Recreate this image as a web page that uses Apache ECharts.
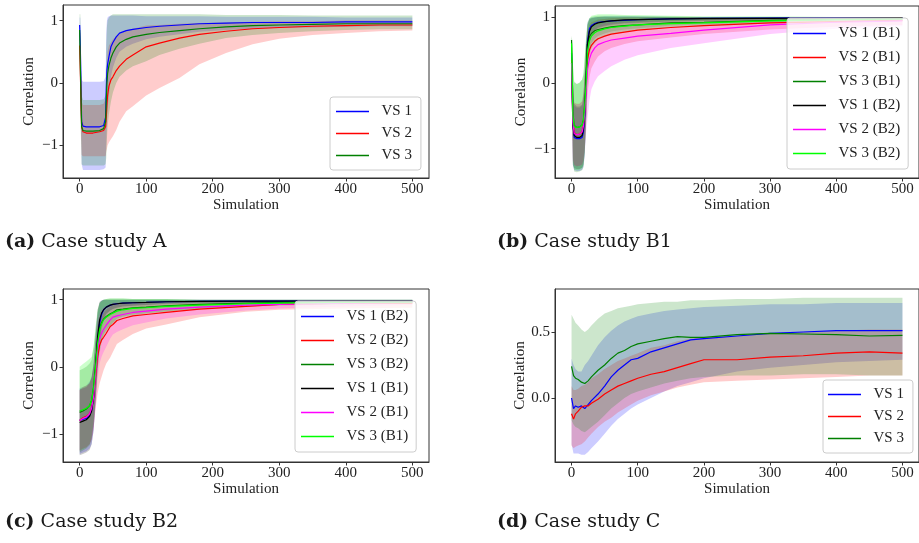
<!DOCTYPE html>
<html><head><meta charset="utf-8">
<script src="https://cdn.jsdelivr.net/npm/echarts@6/dist/echarts.min.js"></script>
<style>html,body{margin:0;padding:0;background:#fff}#c{width:919px;height:543px}</style>
</head><body><div id="c"></div>
<script>
// ---------- Panel A (Case study A) ----------
const xA = [0,1,3,5,10,20,30,36,39,40,41,42,44,47,50,55,60,70,80,100,120,150,180,220,260,300,350,400,450,500];
const a1_mean = [0.93,0.58,-0.62,-0.69,-0.70,-0.70,-0.70,-0.68,-0.55,-0.10,0.20,0.30,0.42,0.58,0.65,0.74,0.80,0.84,0.86,0.89,0.91,0.93,0.95,0.96,0.97,0.97,0.97,0.98,0.98,0.98];
const a1_lo = [0.80,0.10,-1.30,-1.39,-1.39,-1.39,-1.39,-1.38,-1.35,-1.00,-0.60,-0.40,-0.20,0.10,0.25,0.40,0.50,0.58,0.63,0.70,0.74,0.78,0.82,0.85,0.87,0.88,0.89,0.90,0.91,0.91];
const a1_hi = [1.05,1.05,0.05,0.02,0.02,0.02,0.02,0.03,0.10,0.80,1.00,1.05,1.07,1.08,1.08,1.08,1.08,1.08,1.08,1.07,1.07,1.07,1.07,1.06,1.06,1.06,1.06,1.05,1.05,1.05];
const a2_mean = [0.60,0.20,-0.70,-0.78,-0.80,-0.80,-0.78,-0.76,-0.70,-0.55,-0.35,-0.20,-0.05,0.05,0.10,0.20,0.27,0.38,0.45,0.58,0.64,0.72,0.78,0.83,0.87,0.89,0.91,0.92,0.93,0.93];
const a2_lo = [0.40,-0.40,-1.15,-1.17,-1.17,-1.17,-1.17,-1.17,-1.17,-1.10,-1.05,-1.00,-0.95,-0.90,-0.85,-0.75,-0.62,-0.45,-0.37,-0.20,-0.08,0.08,0.30,0.48,0.62,0.71,0.77,0.80,0.83,0.84];
const a2_hi = [0.80,0.80,-0.30,-0.35,-0.35,-0.35,-0.35,-0.33,-0.25,-0.10,0.30,0.50,0.60,0.65,0.70,0.75,0.78,0.84,0.87,0.92,0.93,0.95,0.96,0.97,0.98,0.99,0.99,1.00,1.00,1.00];
const a3_mean = [0.85,0.30,-0.70,-0.76,-0.77,-0.77,-0.76,-0.73,-0.62,-0.30,0.00,0.15,0.28,0.40,0.48,0.58,0.64,0.70,0.74,0.78,0.81,0.84,0.87,0.90,0.92,0.93,0.94,0.95,0.95,0.95];
const a3_lo = [0.60,-0.50,-1.30,-1.32,-1.32,-1.32,-1.32,-1.32,-1.30,-1.20,-0.90,-0.70,-0.50,-0.30,-0.15,0.00,0.10,0.20,0.27,0.35,0.45,0.55,0.63,0.72,0.77,0.80,0.83,0.85,0.86,0.86];
const a3_hi = [1.10,1.10,-0.20,-0.27,-0.27,-0.27,-0.27,-0.26,-0.20,0.60,0.90,1.00,1.05,1.08,1.10,1.10,1.10,1.10,1.10,1.10,1.10,1.10,1.10,1.09,1.09,1.09,1.08,1.08,1.08,1.08];

// ---------- Panel B (Case study B1) ----------
const xB = [0,1,2,4,8,12,16,18,20,22,24,27,30,35,40,50,60,80,100,150,200,300,400,500];
const b1_mean = [0.45,0.00,-0.60,-0.83,-0.85,-0.85,-0.83,-0.75,-0.50,0.00,0.62,0.82,0.87,0.90,0.92,0.93,0.94,0.95,0.96,0.97,0.98,0.985,0.99,0.99];
const b1_lo = [0.20,-0.60,-1.25,-1.33,-1.34,-1.34,-1.32,-1.28,-1.10,-0.60,0.30,0.62,0.74,0.80,0.84,0.87,0.89,0.91,0.92,0.94,0.95,0.96,0.97,0.97];
const b1_hi = [0.70,0.40,0.10,-0.35,-0.38,-0.38,-0.35,-0.25,0.10,0.55,0.90,0.98,0.99,1.00,1.00,1.01,1.01,1.01,1.01,1.00,1.00,1.00,1.00,1.00];
const b2_mean = [0.35,-0.10,-0.55,-0.76,-0.79,-0.78,-0.75,-0.65,-0.40,-0.05,0.35,0.50,0.57,0.63,0.67,0.71,0.74,0.77,0.80,0.84,0.87,0.91,0.93,0.95];
const b2_lo = [0.05,-0.55,-1.15,-1.25,-1.27,-1.26,-1.24,-1.18,-0.98,-0.62,-0.20,0.08,0.22,0.32,0.40,0.48,0.53,0.59,0.63,0.69,0.74,0.81,0.85,0.88];
const b2_hi = [0.65,0.35,0.05,-0.30,-0.32,-0.32,-0.28,-0.15,0.15,0.50,0.78,0.88,0.92,0.94,0.96,0.97,0.98,0.99,0.99,0.99,1.00,1.00,1.00,1.00];
const b3_mean = [0.65,0.20,-0.45,-0.65,-0.68,-0.67,-0.64,-0.56,-0.30,0.10,0.58,0.70,0.75,0.79,0.81,0.83,0.85,0.87,0.88,0.91,0.92,0.95,0.965,0.975];
const b3_lo = [0.40,-0.30,-1.20,-1.35,-1.36,-1.35,-1.33,-1.28,-1.05,-0.55,0.20,0.50,0.60,0.67,0.71,0.75,0.78,0.81,0.83,0.87,0.89,0.92,0.94,0.95];
const b3_hi = [0.72,0.65,0.30,0.02,-0.02,0.00,0.05,0.12,0.40,0.70,0.92,0.98,1.00,1.01,1.02,1.02,1.02,1.02,1.01,1.01,1.00,1.00,1.00,1.00];
const b4_mean = [0.30,-0.20,-0.65,-0.80,-0.83,-0.83,-0.80,-0.70,-0.45,0.05,0.58,0.78,0.85,0.89,0.91,0.93,0.94,0.955,0.96,0.97,0.975,0.98,0.985,0.99];
const b4_lo = [0.00,-0.70,-1.25,-1.30,-1.31,-1.31,-1.29,-1.25,-1.05,-0.55,0.25,0.58,0.71,0.78,0.83,0.86,0.88,0.90,0.91,0.93,0.94,0.95,0.96,0.97];
const b4_hi = [0.60,0.30,0.00,-0.32,-0.36,-0.36,-0.33,-0.20,0.15,0.60,0.88,0.96,0.98,0.99,1.00,1.00,1.00,1.00,1.00,1.00,1.00,1.00,1.00,1.00];
const b5_mean = [0.30,-0.15,-0.60,-0.77,-0.79,-0.78,-0.75,-0.66,-0.45,-0.15,0.20,0.36,0.45,0.53,0.58,0.62,0.65,0.68,0.71,0.75,0.80,0.88,0.92,0.94];
const b5_lo = [0.00,-0.60,-1.18,-1.25,-1.27,-1.26,-1.24,-1.18,-1.02,-0.75,-0.55,-0.27,-0.10,0.02,0.10,0.18,0.25,0.35,0.42,0.53,0.60,0.74,0.82,0.86];
const b5_hi = [0.60,0.30,0.00,-0.32,-0.33,-0.32,-0.28,-0.16,0.10,0.45,0.65,0.75,0.80,0.84,0.87,0.90,0.91,0.92,0.93,0.94,0.96,0.99,1.00,1.00];
const b6_mean = [0.60,0.10,-0.50,-0.66,-0.68,-0.67,-0.64,-0.57,-0.35,0.00,0.48,0.64,0.71,0.76,0.79,0.82,0.84,0.86,0.88,0.90,0.91,0.94,0.96,0.97];
const b6_lo = [0.35,-0.40,-1.22,-1.32,-1.33,-1.32,-1.30,-1.25,-1.05,-0.62,0.05,0.40,0.52,0.60,0.65,0.70,0.73,0.77,0.80,0.84,0.86,0.90,0.93,0.94];
const b6_hi = [0.70,0.60,0.25,0.00,-0.02,0.00,0.05,0.15,0.40,0.65,0.88,0.98,1.02,1.03,1.04,1.04,1.04,1.03,1.03,1.02,1.01,1.01,1.00,1.00];

// ---------- Panel C (Case study B2) ----------
const xC = [0,5,10,15,18,21,24,27,30,33,36,40,46,50,56,65,80,100,130,180,250,300,400,500];
const c1_mean = [-0.80,-0.78,-0.77,-0.72,-0.65,-0.45,-0.05,0.40,0.65,0.78,0.85,0.89,0.92,0.93,0.94,0.95,0.955,0.96,0.97,0.975,0.98,0.98,0.985,0.985];
const c1_lo = [-1.30,-1.28,-1.26,-1.22,-1.15,-0.95,-0.55,-0.05,0.30,0.55,0.70,0.78,0.84,0.86,0.88,0.90,0.91,0.92,0.94,0.95,0.96,0.96,0.97,0.97];
const c1_hi = [-0.32,-0.30,-0.28,-0.22,-0.15,0.05,0.45,0.80,0.95,0.99,1.00,1.00,1.00,1.00,1.00,1.00,1.00,1.00,1.00,1.00,1.00,1.00,1.00,1.00];
const c2_mean = [-0.80,-0.76,-0.74,-0.70,-0.62,-0.45,-0.15,0.15,0.32,0.40,0.44,0.50,0.60,0.63,0.69,0.72,0.76,0.78,0.81,0.86,0.90,0.93,0.95,0.95];
const c2_lo = [-1.25,-1.22,-1.20,-1.15,-1.08,-0.90,-0.62,-0.40,-0.25,-0.15,-0.05,0.05,0.14,0.22,0.34,0.40,0.49,0.57,0.63,0.74,0.82,0.85,0.87,0.88];
const c2_hi = [-0.35,-0.30,-0.28,-0.25,-0.16,0.00,0.32,0.60,0.74,0.78,0.80,0.85,0.90,0.92,0.94,0.95,0.96,0.96,0.97,0.98,0.99,0.99,0.99,0.99];
const c3_mean = [-0.68,-0.66,-0.63,-0.58,-0.50,-0.30,0.05,0.40,0.58,0.66,0.71,0.75,0.79,0.81,0.85,0.86,0.88,0.89,0.91,0.93,0.95,0.96,0.97,0.97];
const c3_lo = [-1.28,-1.25,-1.22,-1.17,-1.08,-0.85,-0.45,0.00,0.25,0.40,0.48,0.55,0.62,0.66,0.72,0.75,0.78,0.80,0.83,0.87,0.90,0.92,0.94,0.95];
const c3_hi = [-0.05,-0.03,0.00,0.05,0.10,0.30,0.60,0.85,0.95,0.98,1.00,1.01,1.02,1.02,1.02,1.02,1.01,1.01,1.01,1.00,1.00,1.00,1.00,1.00];
const c4_mean = [-0.83,-0.81,-0.79,-0.74,-0.66,-0.45,-0.02,0.45,0.70,0.80,0.85,0.89,0.92,0.93,0.94,0.95,0.955,0.96,0.97,0.975,0.98,0.98,0.985,0.985];
const c4_lo = [-1.32,-1.30,-1.28,-1.24,-1.16,-0.95,-0.50,0.05,0.40,0.60,0.72,0.79,0.84,0.86,0.88,0.90,0.91,0.92,0.94,0.95,0.96,0.96,0.97,0.97];
const c4_hi = [-0.34,-0.32,-0.30,-0.24,-0.16,0.05,0.46,0.85,0.97,0.99,1.00,1.00,1.00,1.00,1.00,1.00,1.00,1.00,1.00,1.00,1.00,1.00,1.00,1.00];
const c5_mean = [-0.80,-0.77,-0.75,-0.70,-0.62,-0.45,-0.10,0.25,0.42,0.50,0.56,0.62,0.70,0.74,0.76,0.78,0.81,0.83,0.86,0.89,0.92,0.93,0.95,0.96];
const c5_lo = [-1.25,-1.22,-1.20,-1.15,-1.08,-0.90,-0.60,-0.20,0.05,0.15,0.22,0.30,0.42,0.48,0.52,0.56,0.62,0.66,0.72,0.78,0.84,0.87,0.90,0.92];
const c5_hi = [-0.35,-0.32,-0.30,-0.25,-0.18,0.00,0.40,0.70,0.80,0.85,0.88,0.90,0.93,0.95,0.96,0.96,0.97,0.97,0.98,0.98,0.99,0.99,0.99,0.99];
const c6_mean = [-0.66,-0.64,-0.62,-0.58,-0.50,-0.32,0.00,0.35,0.55,0.64,0.70,0.74,0.78,0.80,0.83,0.85,0.87,0.88,0.90,0.92,0.94,0.95,0.96,0.965];
const c6_lo = [-1.25,-1.23,-1.20,-1.15,-1.06,-0.85,-0.48,-0.05,0.20,0.35,0.45,0.52,0.60,0.64,0.70,0.74,0.77,0.79,0.82,0.86,0.89,0.91,0.93,0.94];
const c6_hi = [0.00,0.04,0.08,0.12,0.15,0.30,0.55,0.82,0.95,0.98,1.00,1.01,1.02,1.02,1.02,1.02,1.01,1.01,1.01,1.00,1.00,1.00,1.00,1.00];

// ---------- Panel D (Case study C) ----------
const xD = [0,3,6,10,15,20,25,30,40,50,60,70,80,90,100,120,140,160,180,200,250,300,350,400,450,500];
const d1_mean = [0.00,-0.08,-0.06,-0.07,-0.06,-0.08,-0.05,-0.02,0.03,0.09,0.16,0.21,0.25,0.29,0.30,0.35,0.38,0.41,0.44,0.45,0.47,0.49,0.50,0.51,0.51,0.51];
const d1_lo = [-0.35,-0.42,-0.42,-0.42,-0.43,-0.43,-0.41,-0.38,-0.33,-0.27,-0.21,-0.16,-0.12,-0.08,-0.05,0.00,0.05,0.09,0.12,0.15,0.20,0.23,0.25,0.27,0.28,0.29];
const d1_hi = [0.30,0.25,0.22,0.20,0.20,0.25,0.28,0.32,0.40,0.46,0.51,0.55,0.58,0.60,0.62,0.64,0.66,0.67,0.68,0.69,0.70,0.71,0.71,0.72,0.72,0.72];
const d2_mean = [-0.12,-0.16,-0.12,-0.10,-0.07,-0.06,-0.06,-0.04,-0.01,0.03,0.06,0.09,0.11,0.13,0.15,0.18,0.20,0.23,0.26,0.29,0.29,0.31,0.32,0.34,0.35,0.34];
const d2_lo = [-0.36,-0.38,-0.37,-0.36,-0.35,-0.33,-0.30,-0.27,-0.22,-0.18,-0.15,-0.11,-0.08,-0.05,-0.02,0.02,0.05,0.08,0.10,0.12,0.13,0.14,0.15,0.16,0.17,0.17];
const d2_hi = [0.09,0.06,0.06,0.07,0.09,0.10,0.12,0.15,0.18,0.22,0.25,0.28,0.30,0.32,0.34,0.38,0.40,0.43,0.45,0.46,0.47,0.49,0.50,0.51,0.52,0.52];
const d3_mean = [0.24,0.17,0.15,0.14,0.12,0.11,0.13,0.16,0.21,0.25,0.30,0.34,0.36,0.39,0.41,0.43,0.45,0.465,0.46,0.46,0.48,0.49,0.485,0.48,0.47,0.475];
const d3_lo = [-0.17,-0.20,-0.22,-0.23,-0.25,-0.26,-0.24,-0.22,-0.18,-0.13,-0.08,-0.04,0.00,0.03,0.05,0.08,0.11,0.13,0.15,0.16,0.17,0.17,0.18,0.18,0.17,0.17];
const d3_hi = [0.63,0.60,0.57,0.55,0.52,0.50,0.52,0.55,0.60,0.64,0.66,0.68,0.69,0.70,0.71,0.72,0.73,0.73,0.74,0.74,0.75,0.75,0.76,0.76,0.76,0.76];

// ---------- ticks, labels ----------
const xTicks = [0,100,200,300,400,500];
const yTicksABC = [-1,0,1];
const yTicksD = [0.0,0.5];
const captions = [['(a)',' Case study A'],['(b)',' Case study B1'],['(c)',' Case study B2'],['(d)',' Case study C']];
const legA = ['VS 1','VS 2','VS 3'];
const legB = ['VS 1 (B1)','VS 2 (B1)','VS 3 (B1)','VS 1 (B2)','VS 2 (B2)','VS 3 (B2)'];
const legC = ['VS 1 (B2)','VS 2 (B2)','VS 3 (B2)','VS 1 (B1)','VS 2 (B1)','VS 3 (B1)'];
const legD = ['VS 1','VS 2','VS 3'];

const BLUE='#0000ff', RED='#ff0000', GREEN='#008000', BLACK='#000000', MAG='#ff00ff', LIME='#00ff00';
const FONT = '"Liberation Serif", "DejaVu Serif", serif';

const grids = [
  {left:63, top:5, width:366, height:173},
  {left:555, top:6, width:367, height:172},
  {left:63, top:289, width:366, height:173},
  {left:555, top:289, width:367, height:173}
];
const yRanges = [[-1.52,1.25],[-1.447,1.167],[-1.42,1.16],[-0.485,0.826]];
const minus = s => String(s).replace('-', '\u2212');

const xAxes = grids.map((g,i)=>({
  gridIndex:i, type:'value', min:-25, max:525,
  name:'Simulation', nameLocation:'middle', nameGap:19,
  nameTextStyle:{fontFamily:FONT, fontSize:15, color:'#222'},
  axisLine:{show:true, onZero:false, lineStyle:{color:'#333', width:1}},
  axisTick:{show:true, length:3.5, customValues:xTicks, lineStyle:{color:'#333'}},
  axisLabel:{customValues:xTicks, margin:4, fontFamily:FONT, fontSize:15, color:'#222'},
  splitLine:{show:false}
}));
const yAxes = grids.map((g,i)=>{
  const t = i===3 ? yTicksD : yTicksABC;
  return {
    gridIndex:i, type:'value', min:yRanges[i][0], max:yRanges[i][1],
    name:'Correlation', nameLocation:'middle', nameGap:26,
    nameTextStyle:{fontFamily:FONT, fontSize:15, color:'#222'},
    axisLine:{show:true, onZero:false, lineStyle:{color:'#333', width:1}},
    axisTick:{show:true, length:3.5, customValues:t, lineStyle:{color:'#333'}},
    axisLabel:{customValues:t, margin:5, fontFamily:FONT, fontSize:15, color:'#222',
      formatter: v => i===3 ? minus(Number(v).toFixed(1)) : minus(Math.round(v))},
    splitLine:{show:false}
  };
});

function band(gi, xs, lo, hi, color){
  const data = xs.map((x,k)=>[x, lo[k], hi[k]]);
  return {type:'custom', xAxisIndex:gi, yAxisIndex:gi, data, silent:true, z:1,
    encode:{x:0, y:[1,2]},
    renderItem:(params, api)=>{
      if (params.dataIndex !== 0) return;
      const up = data.map(d=>api.coord([d[0], d[2]]));
      const dn = data.map(d=>api.coord([d[0], d[1]])).reverse();
      return {type:'polygon', shape:{points: up.concat(dn)}, style:{fill:color, opacity:0.2}};
    }};
}
function line(gi, name, xs, ys, color){
  return {type:'line', name, xAxisIndex:gi, yAxisIndex:gi, symbol:'none', z:3,
    data: xs.map((x,k)=>[x, ys[k]]), lineStyle:{color, width:1.2}, itemStyle:{color},
    emphasis:{disabled:true}, animation:false};
}

const panels = [
  {p:'A', xs:xA, names:legA, s:[[a1_mean,a1_lo,a1_hi,BLUE],[a2_mean,a2_lo,a2_hi,RED],[a3_mean,a3_lo,a3_hi,GREEN]]},
  {p:'B', xs:xB, names:legB, s:[[b1_mean,b1_lo,b1_hi,BLUE],[b2_mean,b2_lo,b2_hi,RED],[b3_mean,b3_lo,b3_hi,GREEN],[b4_mean,b4_lo,b4_hi,BLACK],[b5_mean,b5_lo,b5_hi,MAG],[b6_mean,b6_lo,b6_hi,LIME]]},
  {p:'C', xs:xC, names:legC, s:[[c1_mean,c1_lo,c1_hi,BLUE],[c2_mean,c2_lo,c2_hi,RED],[c3_mean,c3_lo,c3_hi,GREEN],[c4_mean,c4_lo,c4_hi,BLACK],[c5_mean,c5_lo,c5_hi,MAG],[c6_mean,c6_lo,c6_hi,LIME]]},
  {p:'D', xs:xD, names:legD, s:[[d1_mean,d1_lo,d1_hi,BLUE],[d2_mean,d2_lo,d2_hi,RED],[d3_mean,d3_lo,d3_hi,GREEN]]}
];
const series = [];
panels.forEach((P,gi)=>{ P.s.forEach(s=>series.push(band(gi, P.xs, s[1], s[2], s[3]))); });
panels.forEach((P,gi)=>{ P.s.forEach((s,k)=>series.push(line(gi, P.p+'|'+P.names[k], P.xs, s[0], s[3]))); });

const legPos = [
  {left:330, top:97, gap:7, pad:[7,9,7,6]},
  {left:787, top:18, gap:9, pad:[8,8,8,6]},
  {left:295, top:301, gap:9, pad:[8,8,8,6]},
  {left:823, top:380, gap:7, pad:[7,9,7,5]}
];
const legends = panels.map((P,gi)=>({
  data: P.names.map(n=>P.p+'|'+n), orient:'vertical', left:legPos[gi].left, top:legPos[gi].top,
  icon:'rect', itemWidth:33, itemHeight:1.4, itemGap:legPos[gi].gap, padding:legPos[gi].pad,
  backgroundColor:'rgba(255,255,255,0.8)', borderColor:'#cccccc', borderWidth:1, borderRadius:3,
  textStyle:{fontFamily:FONT, fontSize:15, color:'#222', lineHeight:15},
  formatter: n => '  ' + n.split('|')[1], selectedMode:false, z:10
}));

const capPos = [[5,233],[497,233],[5,513],[497,513]];
const graphic = captions.map((c,i)=>({
  type:'text', left:capPos[i][0], top:capPos[i][1], z:20,
  style:{text:'{b|'+c[0]+'}'+c[1], fontFamily:'"DejaVu Serif", serif', fontSize:19, fill:'#1a1a1a',
    rich:{b:{fontFamily:'"DejaVu Serif", serif', fontSize:19, fontWeight:'bold', fill:'#1a1a1a'}}}
}));

const chart = echarts.init(document.getElementById('c'), null, {renderer:'canvas'});
chart.setOption({
  animation:false,
  grid: grids.map(g=>Object.assign({show:true, borderColor:'#333', borderWidth:1, backgroundColor:'transparent'}, g)),
  xAxis:xAxes, yAxis:yAxes, legend:legends, series, graphic
});
</script></body></html>
